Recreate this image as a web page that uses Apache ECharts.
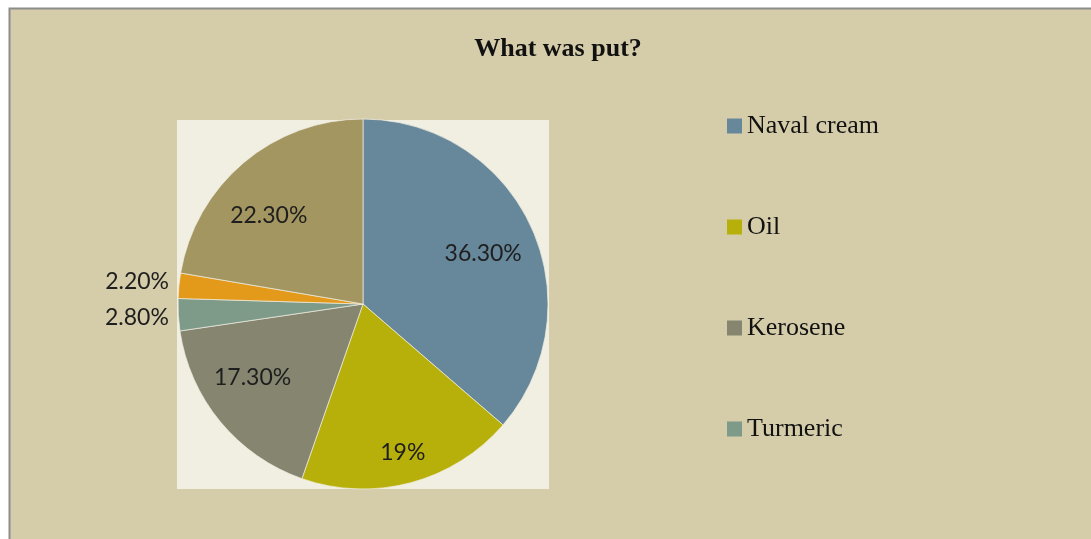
<!DOCTYPE html>
<html><head><meta charset="utf-8">
<script src="https://cdn.jsdelivr.net/npm/echarts@6/dist/echarts.min.js"></script>
<style>html,body{margin:0;padding:0;background:#fff}#c{width:1091px;height:539px}</style>
</head><body><div id="c"></div>
<script>
const categories = ['Naval cream', 'Oil', 'Kerosene', 'Turmeric', 'Category 5', 'Category 6'];
const values = [36.3, 19, 17.3, 2.8, 2.2, 22.3];
const labels = ['36.30%', '19%', '17.30%', '2.80%', '2.20%', '22.30%'];
const legendItems = ['Naval cream', 'Oil', 'Kerosene', 'Turmeric'];
const colors = ['#67889a', '#b8b00a', '#868570', '#7e9a89', '#e39a1b', '#a39660'];
const labelRadiusFrac = [0.705, 0.834, 0.717, 1.224, 1.227, 0.70];
const labelAngleShift = [1.7, 0, 5.9, 0, 0, -6.5];

const CX = 363, CY = 304, R = 185;
const total = values.reduce((a, b) => a + b, 0);
const mids = [];
let acc = 0;
values.forEach(v => { mids.push((acc + v / 2) / total * 2 * Math.PI); acc += v; });

const chart = echarts.init(document.getElementById('c'), null, {renderer: 'canvas'});
chart.setOption({
  animation: false,
  backgroundColor: '#ffffff',
  color: colors,
  graphic: [
    {type: 'rect', shape: {x: 9.5, y: 8.5, width: 1100, height: 540}, style: {fill: '#d5cca9', stroke: '#8c8c8c', lineWidth: 2}, z: -10},
    {type: 'rect', shape: {x: 177, y: 120, width: 372, height: 369}, style: {fill: '#f1eee2'}, z: -9}
  ],
  title: {
    text: 'What was put?',
    left: 553, top: 31, textAlign: 'center',
    textStyle: {fontFamily: 'Liberation Serif', fontWeight: 'bold', fontSize: 26, color: '#111'}
  },
  legend: {
    orient: 'vertical',
    left: 727, top: 113,
    padding: 0,
    data: legendItems,
    itemWidth: 15, itemHeight: 15,
    itemGap: 75,
    icon: 'rect',
    itemStyle: {borderWidth: 0},
    textStyle: {fontFamily: 'Liberation Serif', fontSize: 26, color: '#111'}
  },
  series: [{
    type: 'pie',
    center: [CX, CY],
    radius: [0, R],
    startAngle: 90,
    clockwise: true,
    avoidLabelOverlap: false,
    itemStyle: {borderColor: '#f1eee2', borderWidth: 0.7},
    data: categories.map((n, i) => ({name: n, value: values[i]})),
    label: {
      show: true, position: 'inside',
      formatter: p => labels[p.dataIndex],
      fontFamily: 'Lato', fontSize: 23, color: '#1e1e1e'
    },
    labelLine: {show: false},
    labelLayout: function (p) {
      const i = p.dataIndex;
      const a = mids[i] + labelAngleShift[i] * Math.PI / 180;
      const f = labelRadiusFrac[i];
      return {x: CX + Math.sin(a) * R * f, y: CY - Math.cos(a) * R * f, align: 'center', verticalAlign: 'middle'};
    },
    emphasis: {disabled: true}
  }]
});
</script></body></html>
